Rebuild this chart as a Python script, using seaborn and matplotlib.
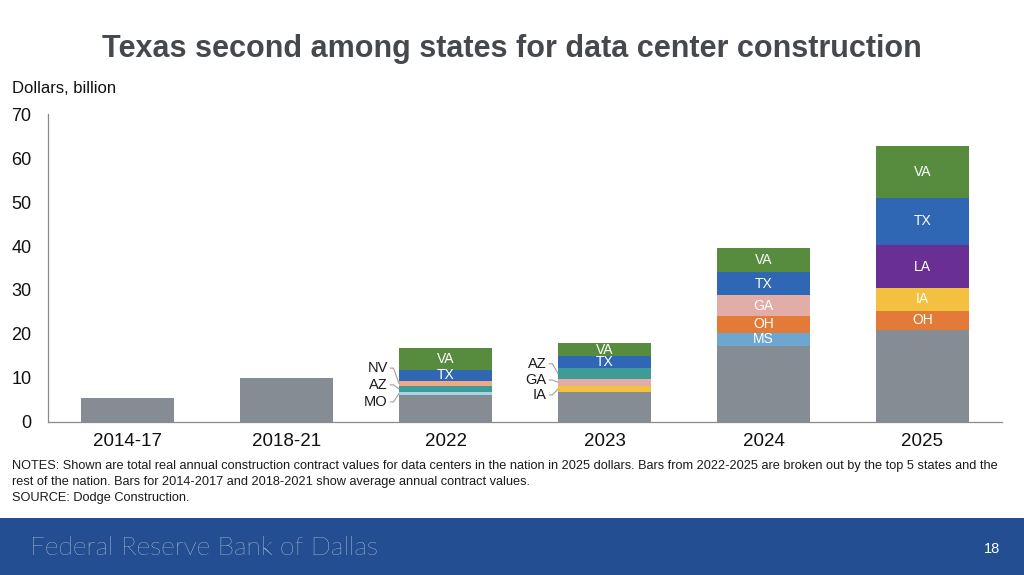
import matplotlib
matplotlib.use("Agg")
import matplotlib.pyplot as plt
import seaborn as sns
import pandas as pd
import numpy as np

# ---------------- data ----------------
categories = ["2014-17", "2018-21", "2022", "2023", "2024", "2025"]
rest_of_nation = [5.5, 10.0, 6.0, 6.7, 17.2, 20.9]

# top-5 state segments, listed bottom to top
states_2022 = ["MO", "AZ", "NV", "TX", "VA"]
values_2022 = [0.85, 1.2, 1.3, 2.45, 5.0]
states_2023 = ["IA", "GA", "AZ", "TX", "VA"]
values_2023 = [1.5, 1.55, 2.4, 2.75, 3.05]
states_2024 = ["MS", "OH", "GA", "TX", "VA"]
values_2024 = [3.05, 3.8, 4.7, 5.3, 5.5]
states_2025 = ["OH", "IA", "LA", "TX", "VA"]
values_2025 = [4.4, 5.1, 9.75, 10.9, 11.7]

state_colors = {
    "Rest": "#858c93",
    "VA": "#578b3e",
    "TX": "#2f67b4",
    "LA": "#6a2f92",
    "IA": "#f3c13f",
    "OH": "#e37a37",
    "MS": "#6da6d1",
    "GA": "#e2aca7",
    "AZ": "#3f9b95",
    "NV": "#eeaa88",
    "MO": "#a9d3e6",
}

# labels placed outside the bar (small segments)
outside_labels = {"2022": ["NV", "AZ", "MO"], "2023": ["AZ", "GA", "IA"]}

segments = {
    "2022": (states_2022, values_2022),
    "2023": (states_2023, values_2023),
    "2024": (states_2024, values_2024),
    "2025": (states_2025, values_2025),
}

# build long table: layer 0 = rest of nation, layers 1..5 = states
rows = []
for i, cat in enumerate(categories):
    rows.append(dict(cat=cat, layer=0, state="Rest", value=rest_of_nation[i]))
    if cat in segments:
        sts, vals = segments[cat]
        for k, (s, v) in enumerate(zip(sts, vals)):
            rows.append(dict(cat=cat, layer=k + 1, state=s, value=v))
df = pd.DataFrame(rows)
df["top"] = df.groupby("cat")["value"].cumsum()
df["bottom"] = df["top"] - df["value"]

# ---------------- figure ----------------
sns.set_theme(style="white")
plt.rcParams["font.family"] = ["Liberation Sans", "DejaVu Sans"]

fig = plt.figure(figsize=(10.24, 5.75), dpi=100)
ax = fig.add_axes([0.0469, 0.2666, 0.9316, 0.5346])

bar_w = 0.585
# draw layers from top down so lower layers overpaint cumulative tops
for layer in sorted(df["layer"].unique(), reverse=True):
    d = df[df["layer"] == layer]
    pal = {c: state_colors[s] for c, s in zip(d["cat"], d["state"])}
    sns.barplot(data=d, x="cat", y="top", hue="cat", order=categories,
                hue_order=list(d["cat"]), palette=pal, dodge=False,
                width=bar_w, legend=False, ax=ax, saturation=1,
                linewidth=0, errorbar=None)

# in-bar labels
for _, r in df.iterrows():
    if r["state"] == "Rest":
        continue
    if r["cat"] in outside_labels and r["state"] in outside_labels[r["cat"]]:
        continue
    xi = categories.index(r["cat"])
    ymid = (r["top"] + r["bottom"]) / 2
    ax.text(xi, ymid, r["state"], color="white", ha="center", va="center",
            fontsize=10)

# outside labels with leader lines (label y in data units)
label_y = {"2022": {"NV": 12.2, "AZ": 8.4, "MO": 4.5},
           "2023": {"AZ": 13.2, "GA": 9.5, "IA": 6.1}}
for cat, labs in label_y.items():
    xi = categories.index(cat)
    left = xi - bar_w / 2
    for s, ly in labs.items():
        r = df[(df["cat"] == cat) & (df["state"] == s)].iloc[0]
        ymid = (r["top"] + r["bottom"]) / 2
        ax.text(left - 0.07, ly, s, ha="right", va="center", fontsize=10.5,
                color="#1a1a1a")
        ax.plot([left - 0.055, left - 0.035, left], [ly, ly, ymid],
                color="#a0a0a0", lw=0.8, clip_on=False)

# axes styling
ax.set_xlim(-0.5, 5.5)
ax.set_ylim(0, 70)
ax.set_yticks(np.arange(0, 71, 10))
ax.set_xlabel("")
ax.set_ylabel("")
for sp in ["top", "right"]:
    ax.spines[sp].set_visible(False)
for sp in ["left", "bottom"]:
    ax.spines[sp].set_color("#8a8a8a")
    ax.spines[sp].set_linewidth(0.9)
ax.set_xticks(np.arange(0.5, 5, 1), minor=True)
ax.tick_params(axis="x", which="major", length=0, labelsize=13.5,
               pad=8, colors="#111111")
ax.tick_params(axis="x", which="minor", length=5, width=0.9,
               color="#8a8a8a", direction="out")
ax.tick_params(axis="y", which="major", length=4, width=0.9,
               color="#8a8a8a", labelsize=13, labelcolor="#111111",
               direction="out", pad=8)

# title and axis unit
fig.text(0.5, 0.915, "Texas second among states for data center construction",
         ha="center", va="center", fontsize=22, fontweight="bold",
         color="#45484d")
fig.text(0.0117, 0.846, "Dollars, billion", ha="left", va="center",
         fontsize=12, color="#111111")

# notes
notes = [
    "NOTES: Shown are total real annual construction contract values for data centers in the nation in 2025 dollars. "
    "Bars from 2022-2025 are broken out by the top 5 states and the",
    "rest of the nation. Bars for 2014-2017 and 2018-2021 show average annual contract values.",
    "SOURCE: Dodge Construction.",
]
for i, line in enumerate(notes):
    fig.text(0.0117, 1 - (465.5 + 16 * i) / 575, line, ha="left", va="center",
             fontsize=9.15, color="#1a1a1a")

# footer band
band = plt.Rectangle((0, 0), 1, (575 - 518) / 575, transform=fig.transFigure,
                     facecolor="#234e91", edgecolor="none", zorder=0)
fig.patches.append(band)
fig.text(0.029, 1 - 548 / 575, "Federal Reserve Bank of Dallas", ha="left",
         va="center", fontsize=19, family=["Lato", "DejaVu Sans"],
         fontweight="light", color="white")
fig.text(0.977, 1 - 549 / 575, "18", ha="right", va="center", fontsize=10.5,
         color="white")

fig.savefig("out.png", dpi=100)
